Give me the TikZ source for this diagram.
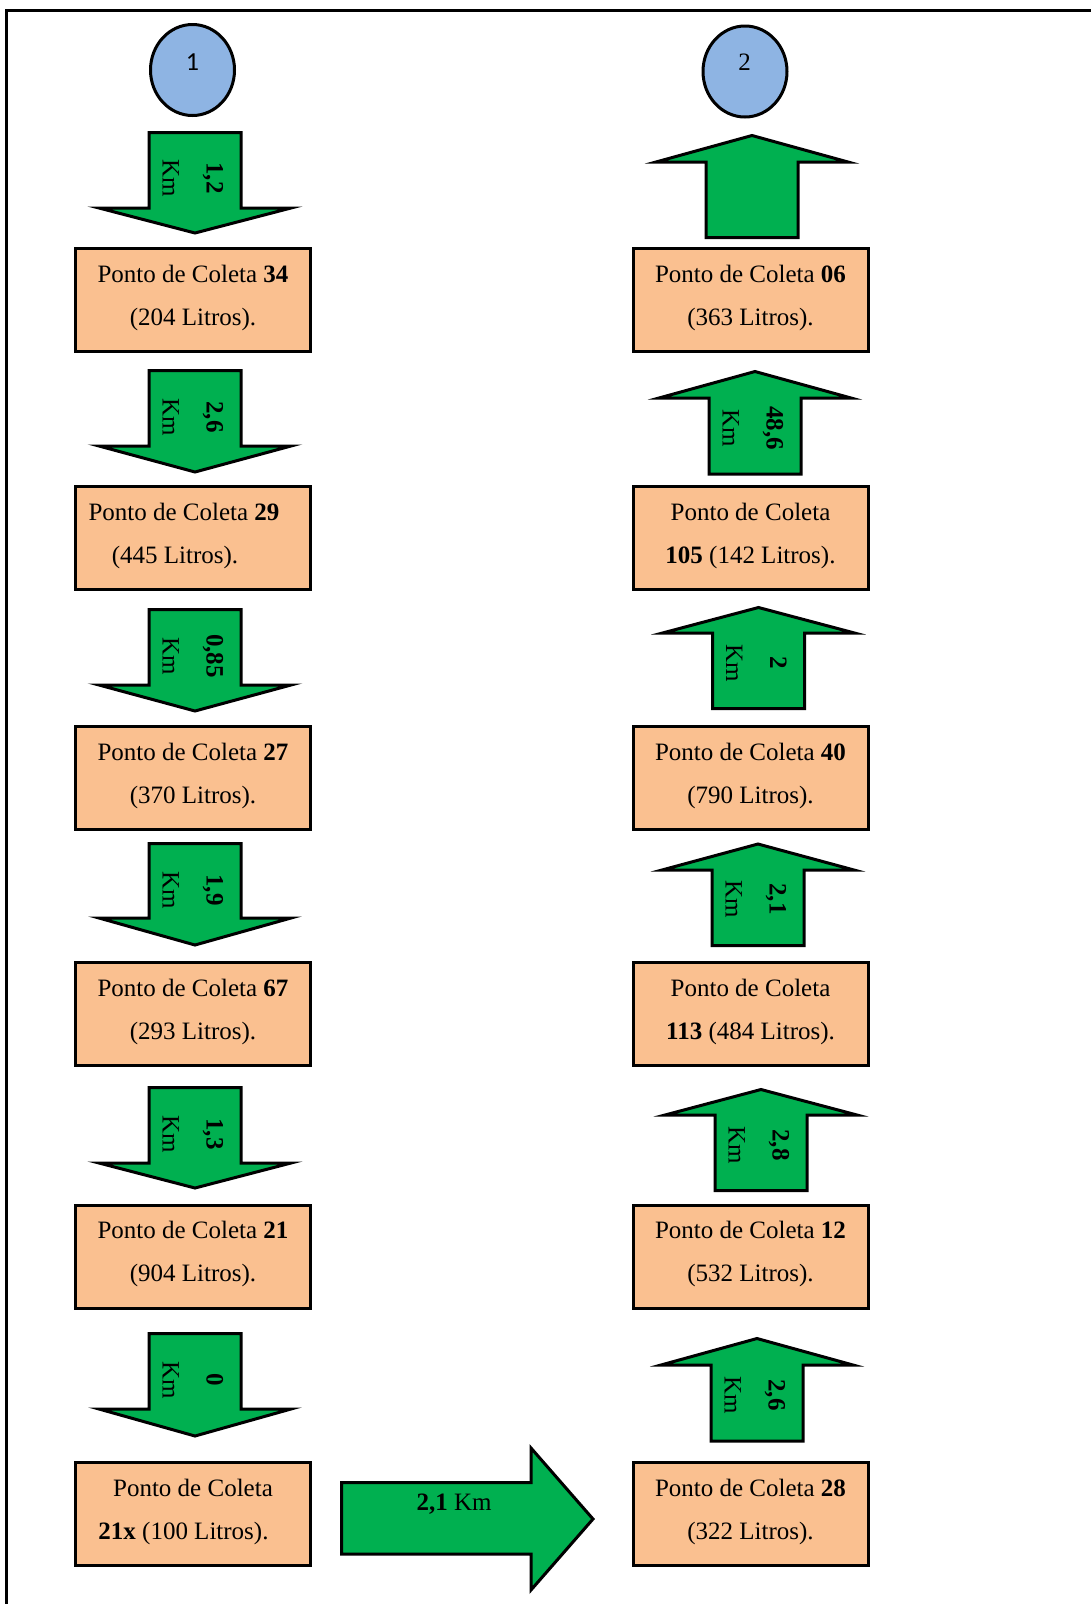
\documentclass[tikz,border=0pt]{standalone}
\usepackage{fontspec}
\setmainfont{Liberation Serif}
\newfontfamily\digitfont{Carlito}
\usetikzlibrary{shapes.geometric}

\definecolor{routegreen}{HTML}{00B050}
\definecolor{pointfill}{HTML}{FAC090}
\definecolor{startfill}{HTML}{8EB4E3}

% extra depth on the last line of a collection box
\newcommand\deepstrut{\rule[-10pt]{0pt}{10pt}}

% block arrow pointing down: centre x, top of shaft, base of head, tip
\newcommand\downroute[4]{%
  \draw[routearrow] (#1-46,#2) -- (#1+46,#2) -- (#1+46,#3) -- (#1+96,#3)
    -- (#1,#4) -- (#1-96,#3) -- (#1-46,#3) -- cycle;}
% block arrow pointing up: centre x, tip, base of head, bottom of shaft
\newcommand\uproute[4]{%
  \draw[routearrow] (#1-46,#4) -- (#1+46,#4) -- (#1+46,#3) -- (#1+96,#3)
    -- (#1,#2) -- (#1-96,#3) -- (#1-46,#3) -- cycle;}

\tikzset{
  pointbox/.style={draw, fill=pointfill, line width=3pt, minimum width=235pt,
    minimum height=103pt, align=center, inner sep=0pt,
    font=\fontsize{25}{43}\selectfont},
  routearrow/.style={draw, fill=routegreen, line width=3pt, line join=miter,
    miter limit=12},
  distlabel/.style={rotate=-90, align=center, inner sep=0pt,
    font=\fontsize{25}{44}\selectfont},
  startmark/.style={draw, fill=startfill, ellipse, line width=3pt,
    minimum width=84pt, minimum height=91pt, inner sep=0pt},
}

\begin{document}
\begin{tikzpicture}[x=1pt, y=-1pt]
\useasboundingbox (0,0) rectangle (1090,1604);

% page frame
\draw[line width=3pt] (6.5,1610) |- (1096,10);

% start markers
\node[startmark] (s1) at (192.5,70) {};
\node[inner sep=0pt, font=\digitfont\fontsize{26}{30}\selectfont] (s1num) at (192.5,62) {1};
\node[startmark] (s2) at (745,71.5) {};
\node[inner sep=0pt, font=\fontsize{25}{30}\selectfont] (s2num) at (744.5,62) {2};

% route 1 (downwards)
\downroute{195}{132.5}{208}{233}
\node[distlabel] (d1) at (193,178) {\textbf{1,2}\\Km};
\node[pointbox] (p34) at (193,300) {Ponto de Coleta \textbf{34}\\(204 Litros).\deepstrut};

\downroute{195}{370.5}{446}{472}
\node[distlabel] (d2) at (193,417) {\textbf{2,6}\\Km};
\node[pointbox] (p29) at (193,538) {Ponto de Coleta \textbf{29}\hspace*{18pt}\\(445 Litros).\hspace*{36pt}\deepstrut};

\downroute{195}{609.5}{685}{711}
\node[distlabel] (d3) at (193,656) {\textbf{0,85}\\Km};
\node[pointbox] (p27) at (193,778) {Ponto de Coleta \textbf{27}\\(370 Litros).\deepstrut};

\downroute{195}{843.5}{918}{945}
\node[distlabel] (d4) at (193,890) {\textbf{1,9}\\Km};
\node[pointbox] (p67) at (193,1014) {Ponto de Coleta \textbf{67}\\(293 Litros).\deepstrut};

\downroute{195}{1087.5}{1163}{1188}
\node[distlabel] (d5) at (193,1134) {\textbf{1,3}\\Km};
\node[pointbox] (p21) at (193,1256.5) {Ponto de Coleta \textbf{21}\\(904 Litros).\deepstrut};

\downroute{195}{1333.5}{1409}{1436}
\node[distlabel] (d6) at (193,1380) {\textbf{0}\\Km};
\node[pointbox] (p21x) at (193,1514) {Ponto de Coleta\\\textbf{21x} (100 Litros).\hspace*{19pt}\deepstrut};

% transfer between the two routes
\draw[routearrow] (341.5,1482.5) -- (531,1482.5) -- (531,1448) -- (593,1519)
  -- (531,1590) -- (531,1554) -- (341.5,1554) -- cycle;
\node[inner sep=0pt, font=\fontsize{25}{30}\selectfont] (d7) at (454,1504) {\textbf{2,1} Km};

% route 2 (upwards)
\node[pointbox] (p28) at (750.5,1514) {Ponto de Coleta \textbf{28}\\(322 Litros).\deepstrut};

\uproute{757}{1338.5}{1365}{1441}
\node[distlabel] (d8) at (755,1395) {\textbf{2,6}\\Km};
\node[pointbox] (p12) at (750.5,1256.5) {Ponto de Coleta \textbf{12}\\(532 Litros).\deepstrut};

\uproute{761}{1089.5}{1115}{1190.5}
\node[distlabel] (d9) at (759,1145) {\textbf{2,8}\\Km};
\node[pointbox] (p113) at (750.5,1014) {Ponto de Coleta\\\textbf{113} (484 Litros).\deepstrut};

\uproute{758}{844}{870}{945.5}
\node[distlabel] (d10) at (756,899) {\textbf{2,1}\\Km};
\node[pointbox] (p40) at (750.5,778) {Ponto de Coleta \textbf{40}\\(790 Litros).\deepstrut};

\uproute{758.5}{607.5}{633}{708.5}
\node[distlabel] (d11) at (756.5,663) {\textbf{2}\\Km};
\node[pointbox] (p105) at (750.5,538) {Ponto de Coleta\\\textbf{105} (142 Litros).\deepstrut};

\uproute{755}{371.5}{398}{474}
\node[distlabel] (d12) at (753,428) {\textbf{48,6}\\Km};
\node[pointbox] (p06) at (750.5,300) {Ponto de Coleta \textbf{06}\\(363 Litros).\deepstrut};

\uproute{752}{135.5}{162}{237.5}
\end{tikzpicture}
\end{document}
